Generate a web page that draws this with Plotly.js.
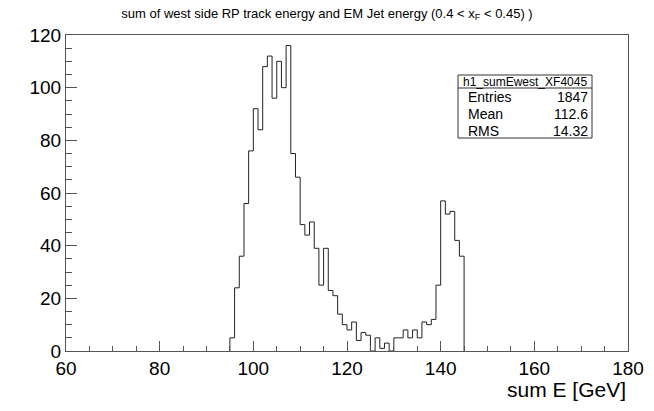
<!DOCTYPE html>
<html>
<head>
<meta charset="utf-8">
<script src="https://cdn.plot.ly/plotly-3.0.1.min.js"></script>
<style>html,body{margin:0;padding:0;background:#fff;}#plot{width:654px;height:411px;}</style>
</head>
<body>
<div id="plot"></div>
<script>
// Histogram: 1 GeV bins, low edges 95..144
const binLowEdges = [95,96,97,98,99,100,101,102,103,104,105,106,107,108,109,110,111,112,113,114,115,116,117,118,119,120,121,122,123,124,125,126,127,128,129,130,131,132,133,134,135,136,137,138,139,140,141,142,143,144];
const counts = [5,24,36,56,76,92,84,108,112,96,110,100,116,75,66,48,44,49,39,25,39,23,21,14,10,8,11,4,7,6,0,5,1,3,0,5,5,8,5,8,5,11,10,12,25,57,52,53,42,36];
const binWidth = 1;
const statsName = "h1_sumEwest_XF4045";
const statsLabels = ["Entries", "Mean", "RMS"];
const statsValues = ["1847", "112.6", "14.32"];
const xTickVals = [60,80,100,120,140,160,180];
const yTickVals = [0,20,40,60,80,100,120];

// build step outline
const xs = [binLowEdges[0]], ys = [0];
for (let i = 0; i < counts.length; i++) { xs.push(binLowEdges[i]); ys.push(counts[i]); }
xs.push(binLowEdges[binLowEdges.length-1] + binWidth); ys.push(0);

const L = 66, R = 628, T = 35, B = 351, W = 654, H = 411;
const px = x => (x - L) / (R - L);
const py = y => (B - y) / (B - T);

const font = "Liberation Sans, Arial, Helvetica, sans-serif";

const trace = {
  x: xs, y: ys, type: 'scatter', mode: 'lines',
  line: {shape: 'hv', color: '#222', width: 1},
  hoverinfo: 'skip', showlegend: false
};

const annotations = [
  {text: statsName, x: px(525), y: py(81.5), xref: 'paper', yref: 'paper', xanchor: 'center', yanchor: 'middle', showarrow: false, font: {family: font, size: 12, color: '#000'}},
  {text: 'sum E [GeV]', x: 1, y: py(389), xref: 'paper', yref: 'paper', xanchor: 'right', yanchor: 'middle', showarrow: false, font: {family: font, size: 21, color: '#000'}}
];
const rowY = [97, 114, 131];
for (let i = 0; i < statsLabels.length; i++) {
  annotations.push({text: statsLabels[i], x: px(466), y: py(rowY[i]), xref: 'paper', yref: 'paper', xanchor: 'left', yanchor: 'middle', showarrow: false, font: {family: font, size: 14, color: '#000'}});
  annotations.push({text: statsValues[i], x: px(590), y: py(rowY[i]), xref: 'paper', yref: 'paper', xanchor: 'right', yanchor: 'middle', showarrow: false, font: {family: font, size: 14, color: '#000'}});
}

const layout = {
  width: W, height: H,
  margin: {l: L, r: W - R, t: T, b: H - B, pad: 0},
  paper_bgcolor: '#fff', plot_bgcolor: '#fff',
  title: {text: 'sum of west side RP track energy and EM Jet energy (0.4 &lt; x<sub>F</sub> &lt; 0.45) )', x: 0.5, xref: 'container', y: 1 - 13/H, yref: 'container', xanchor: 'center', yanchor: 'middle', font: {family: font, size: 13, color: '#000'}},
  xaxis: {
    range: [60, 180], showgrid: false, zeroline: false,
    showline: true, linecolor: '#555', linewidth: 1, mirror: true,
    ticks: 'inside', ticklen: 10, tickcolor: '#555', tickwidth: 1,
    tickmode: 'array', tickvals: xTickVals, ticktext: xTickVals.map(String),
    minor: {dtick: 5, tick0: 60, ticks: 'inside', ticklen: 5, tickcolor: '#555', showgrid: false},
    tickfont: {family: font, size: 19, color: '#000'}
  },
  yaxis: {
    range: [0, 120], showgrid: false, zeroline: false,
    showline: true, linecolor: '#555', linewidth: 1, mirror: true,
    ticks: 'inside', ticklen: 11, tickcolor: '#555', tickwidth: 1,
    tickmode: 'array', tickvals: yTickVals, ticktext: yTickVals.map(String),
    minor: {dtick: 5, tick0: 0, ticks: 'inside', ticklen: 6, tickcolor: '#555', showgrid: false},
    tickfont: {family: font, size: 19, color: '#000'}
  },
  shapes: [
    {type: 'rect', xref: 'paper', yref: 'paper', x0: px(458), x1: px(592), y0: py(138), y1: py(75), line: {color: '#333', width: 1}, fillcolor: '#fff', layer: 'above'},
    {type: 'line', xref: 'paper', yref: 'paper', x0: px(458), x1: px(592), y0: py(88), y1: py(88), line: {color: '#333', width: 1}, layer: 'above'}
  ],
  annotations: annotations
};

Plotly.newPlot('plot', [trace], layout, {displayModeBar: false, staticPlot: true});
</script>
</body>
</html>
